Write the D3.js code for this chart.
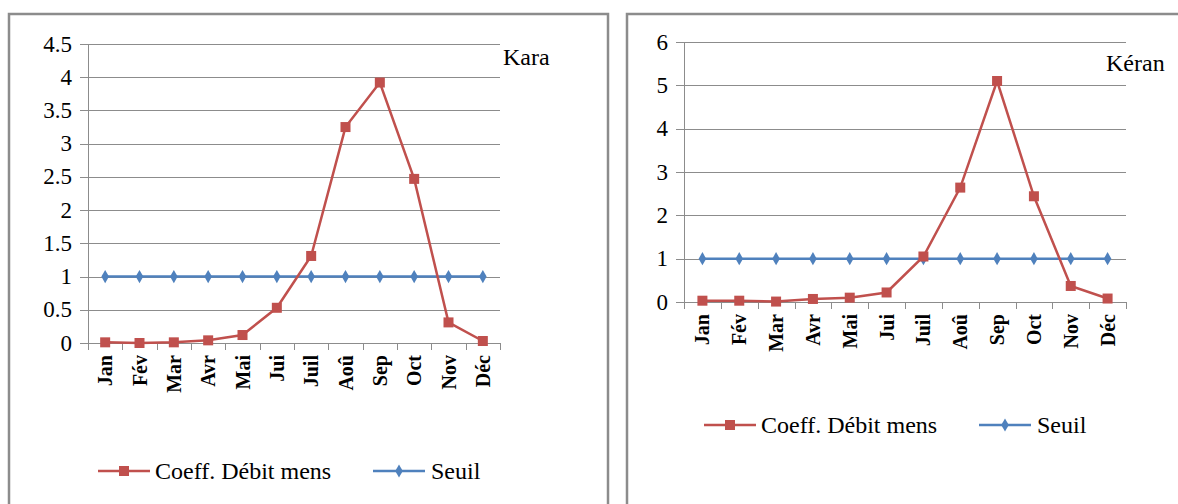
<!DOCTYPE html>
<html>
<head>
<meta charset="utf-8">
<script src="https://cdn.jsdelivr.net/npm/d3@7/dist/d3.min.js"></script>
<style>
	body { margin: 0; background: #fff; }
	svg { display: block; }
	.grid line { stroke: #8c8c8c; stroke-width: 1; }
	.frame { fill: #fff; stroke: #8c8c8c; stroke-width: 2.5; }
</style>
</head>
<body>
<svg width="1178" height="504"></svg>
<script>
var months = ["Jan", "Fév", "Mar", "Avr", "Mai", "Jui", "Juil", "Aoû", "Sep", "Oct", "Nov", "Déc"];

var karaCoeff = [0.01, 0.00, 0.01, 0.04, 0.12, 0.53, 1.31, 3.25, 3.92, 2.47, 0.31, 0.03];
var karaSeuil = [1, 1, 1, 1, 1, 1, 1, 1, 1, 1, 1, 1];
var karaTicks = [0, 0.5, 1, 1.5, 2, 2.5, 3, 3.5, 4, 4.5];

var keranCoeff = [0.03, 0.03, 0.01, 0.07, 0.10, 0.22, 1.05, 2.64, 5.10, 2.44, 0.37, 0.08];
var keranSeuil = [1, 1, 1, 1, 1, 1, 1, 1, 1, 1, 1, 1];
var keranTicks = [0, 1, 2, 3, 4, 5, 6];

var RED = "#c0504d";
var BLUE = "#4f81bd";
var SERIF = "'Liberation Serif', 'Times New Roman', Tinos, serif";

var svg = d3.select("svg");

// serif text helper
function txt(sel, size, bold) {
	return sel
		.style("font-family", SERIF, "important")
		.style("font-size", size + "px", "important")
		.style("font-weight", bold ? "bold" : "normal", "important")
		.attr("fill", "#000");
}

function drawPanel(opt) {
	var g = svg.append("g");

	// outer frame
	g.append("rect")
		.attr("class", "frame")
		.attr("x", opt.frame[0])
		.attr("y", opt.frame[1])
		.attr("width", opt.frame[2])
		.attr("height", opt.frame[3]);

	var x = d3.scaleBand().domain(months).range([opt.left, opt.right]);
	var y = d3.scaleLinear().domain([0, d3.max(opt.ticks)]).range([opt.bottom, opt.top]);

	// horizontal gridlines (they also make the outer y ticks)
	g.append("g").attr("class", "grid")
		.selectAll("line")
		.data(opt.ticks)
		.enter().append("line")
		.attr("x1", opt.left - 8)
		.attr("x2", opt.right)
		.attr("y1", function(d) { return Math.round(y(d)) + 0.5; })
		.attr("y2", function(d) { return Math.round(y(d)) + 0.5; });

	// y axis line
	g.append("line")
		.attr("x1", opt.left + 0.5).attr("x2", opt.left + 0.5)
		.attr("y1", opt.top).attr("y2", opt.bottom + 7)
		.attr("stroke", "#8c8c8c");

	// category tick marks
	var edges = months.map(function(m) { return x(m); }).concat([opt.right]);
	g.append("g").attr("class", "grid")
		.selectAll("line")
		.data(edges.slice(1))
		.enter().append("line")
		.attr("x1", function(d) { return Math.round(d) + 0.5; })
		.attr("x2", function(d) { return Math.round(d) + 0.5; })
		.attr("y1", Math.round(y(0)))
		.attr("y2", Math.round(y(0)) + 7);

	// y tick labels
	txt(g.selectAll(".ylab")
		.data(opt.ticks)
		.enter().append("text")
		.attr("x", opt.left - 16)
		.attr("y", function(d) { return y(d); })
		.attr("dy", ".33em")
		.attr("text-anchor", "end"), 23)
		.text(function(d) { return d; });

	// x tick labels, rotated
	txt(g.selectAll(".xlab")
		.data(months)
		.enter().append("text")
		.attr("transform", function(d) {
			return "translate(" + (x(d) + x.bandwidth() / 2) + "," + (opt.bottom + 12) + ") rotate(-90)";
		})
		.attr("dy", ".35em")
		.attr("text-anchor", "end"), 20, true)
		.text(function(d) { return d; });

	var line = d3.line()
		.x(function(d, i) { return x(months[i]) + x.bandwidth() / 2; })
		.y(function(d) { return y(d); });

	// threshold series
	g.append("path")
		.datum(opt.seuil)
		.attr("d", line)
		.attr("fill", "none")
		.attr("stroke", BLUE)
		.attr("stroke-width", 2.5);

	g.selectAll(".dia")
		.data(opt.seuil)
		.enter().append("path")
		.attr("d", d3.symbol().type(d3.symbolDiamond).size(50))
		.attr("transform", function(d, i) {
			return "translate(" + (x(months[i]) + x.bandwidth() / 2) + "," + y(d) + ")";
		})
		.attr("fill", BLUE);

	// coefficient series
	g.append("path")
		.datum(opt.coeff)
		.attr("d", line)
		.attr("fill", "none")
		.attr("stroke", RED)
		.attr("stroke-width", 2.5);

	g.selectAll(".sq")
		.data(opt.coeff)
		.enter().append("rect")
		.attr("x", function(d, i) { return x(months[i]) + x.bandwidth() / 2 - 5; })
		.attr("y", function(d) { return y(d) - 5; })
		.attr("width", 10)
		.attr("height", 10)
		.attr("fill", RED);

	// station name
	txt(g.append("text")
		.attr("x", opt.nameX)
		.attr("y", opt.nameY), 24)
		.text(opt.name);

	// legend
	var lg = g.append("g").attr("transform", "translate(" + opt.legend[0] + "," + opt.legend[1] + ")");

	lg.append("line").attr("x1", 0).attr("x2", 52).attr("y1", 0).attr("y2", 0)
		.attr("stroke", RED).attr("stroke-width", 2.5);
	lg.append("rect").attr("x", 21).attr("y", -5).attr("width", 10).attr("height", 10).attr("fill", RED);
	txt(lg.append("text").attr("x", 57).attr("y", 0).attr("dy", ".33em"), 24)
		.text("Coeff. Débit mens");

	lg.append("line").attr("x1", opt.legendGap).attr("x2", opt.legendGap + 52).attr("y1", 0).attr("y2", 0)
		.attr("stroke", BLUE).attr("stroke-width", 2.5);
	lg.append("path")
		.attr("d", d3.symbol().type(d3.symbolDiamond).size(50))
		.attr("transform", "translate(" + (opt.legendGap + 26) + ",0)")
		.attr("fill", BLUE);
	txt(lg.append("text").attr("x", opt.legendGap + 58).attr("y", 0).attr("dy", ".33em"), 24)
		.text("Seuil");
}

drawPanel({
	frame: [9, 14, 599, 500],
	left: 88, right: 500, top: 44, bottom: 343,
	ticks: karaTicks, coeff: karaCoeff, seuil: karaSeuil,
	name: "Kara", nameX: 503, nameY: 65,
	legend: [98, 471], legendGap: 275
});

drawPanel({
	frame: [627, 14, 560, 500],
	left: 684, right: 1126, top: 42, bottom: 302,
	ticks: keranTicks, coeff: keranCoeff, seuil: keranSeuil,
	name: "Kéran", nameX: 1106, nameY: 71,
	legend: [704, 425], legendGap: 275
});
</script>
</body>
</html>
